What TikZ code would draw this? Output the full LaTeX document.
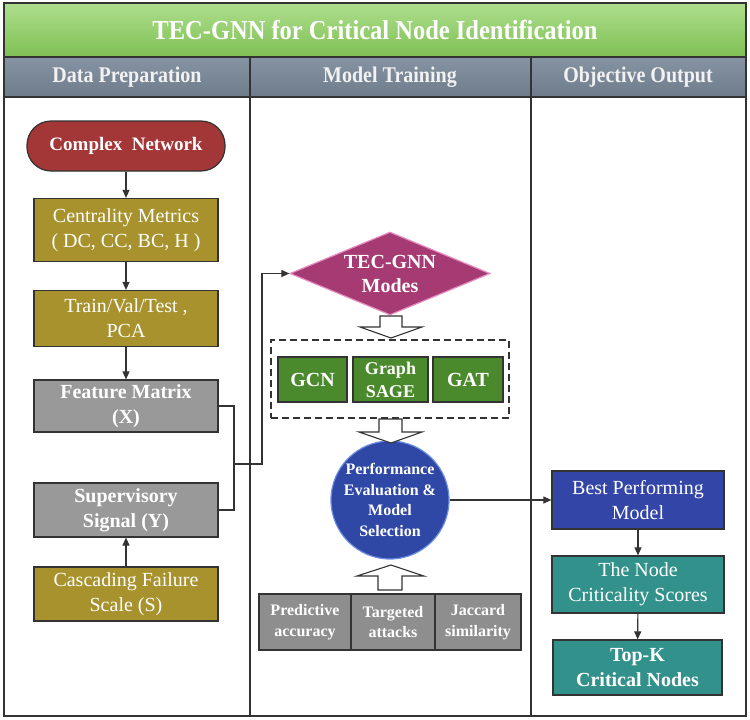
\documentclass[tikz,border=0pt]{standalone}
\usepackage{fontspec}
\setmainfont{Liberation Serif}
\usetikzlibrary{shapes.geometric,arrows.meta}
\definecolor{titleA}{HTML}{AEDE8C}
\definecolor{titleB}{HTML}{7FC055}
\definecolor{headA}{HTML}{8593A2}
\definecolor{headB}{HTML}{6F7C8B}
\definecolor{cnred}{HTML}{A33636}
\definecolor{olive}{HTML}{A8922E}
\definecolor{greybox}{HTML}{999999}
\definecolor{magen}{HTML}{A63A73}
\definecolor{magenB}{HTML}{E58BC0}
\definecolor{gnn}{HTML}{4A8A2C}
\definecolor{pblue}{HTML}{2F48A6}
\definecolor{pblueB}{HTML}{6F8FE0}
\definecolor{bpblue}{HTML}{3346A8}
\definecolor{teal}{HTML}{33918B}
\definecolor{mgrey}{HTML}{8E8E8E}
\definecolor{ink}{HTML}{333333}
\newcommand{\tallish}[1]{\scalebox{1}[1.12]{#1}}
\begin{document}
\begin{tikzpicture}[x=1pt,y=-1pt,
  box/.style={draw=ink, line width=1.2pt, text=white, align=center, inner sep=0pt,
    font=\fontsize{20}{25}\selectfont},
  lbox/.style={box, minimum width=184pt},
  small/.style={font=\fontsize{16}{20.5}\selectfont\bfseries},
  conn/.style={draw=ink, line width=1.1pt},
  arr/.style={conn, -{Triangle[length=8pt,width=7pt]}},
  hollow/.style={draw=ink, line width=1.1pt, fill=white},
  head/.style={text=white!95!black, font=\fontsize{20}{24}\selectfont\bfseries}
]
\useasboundingbox (0,0) rectangle (750,720);
% frame
\shade[top color=titleA, bottom color=titleB] (4,3) rectangle (746,57);
\shade[top color=headA, bottom color=headB] (4,57) rectangle (746,97);
\draw[ink, line width=1.5pt] (4,3) rectangle (746,716);
\draw[ink, line width=1.5pt] (4,57) -- (746,57);
\draw[ink, line width=1.5pt] (4,97) -- (746,97);
\draw[ink, line width=1.5pt] (250,57) -- (250,716);
\draw[ink, line width=1.5pt] (531,57) -- (531,716);
\node[text=white, font=\fontsize{24.5}{28}\selectfont\bfseries] (title) at (375,30) {\tallish{TEC-GNN for Critical Node Identification}};
\node[head] (h1) at (127,77) {\tallish{Data Preparation}};
\node[head] (h2) at (390,77) {\tallish{Model Training}};
\node[head] (h3) at (638,77) {\tallish{Objective Output}};

% left column
\node[box, fill=cnred, minimum width=198pt, minimum height=50pt, rounded corners=24pt,
  font=\fontsize{19}{24}\selectfont\bfseries] (cn) at (126,146) {Complex\ \ Network};
\node[lbox, fill=olive, minimum height=63pt] (cm) at (126,230) {Centrality Metrics\\( DC, CC, BC, H )};
\node[lbox, fill=olive, minimum height=56pt] (tv) at (126,318.5) {Train/Val/Test ,\\PCA};
\node[lbox, fill=greybox, minimum height=52pt, font=\fontsize{20}{25}\selectfont\bfseries] (fm) at (126,406) {Feature Matrix\\(X)};
\node[lbox, fill=greybox, minimum height=54pt, font=\fontsize{20}{25}\selectfont\bfseries] (ss) at (126,510) {Supervisory\\Signal (Y)};
\node[lbox, fill=olive, minimum height=54pt] (cf) at (126,594) {Cascading Failure\\Scale (S)};
\draw[arr] (cn) -- (cm);
\draw[arr] (cm) -- (tv);
\draw[arr] (tv) -- (fm);
\draw[arr] (cf) -- (ss);
\coordinate (j) at (234,464);
\coordinate (k) at (262,464);

% middle column
\node[diamond, draw=magenB, fill=magen, line width=1.2pt, minimum width=200pt, minimum height=83pt,
  aspect=2.4, inner sep=0pt, text=white, align=center, font=\fontsize{20}{24}\selectfont\bfseries] (tec) at (390,273.5) {TEC-GNN\\Modes};
\draw[conn] (fm.east) -| (j);
\draw[conn] (ss.east) -| (j);
\draw[arr] (j) -- (k) |- (tec.west);

\node[draw=ink, dash pattern=on 7pt off 4pt, line width=1.1pt, minimum width=238pt, minimum height=78pt] (grp) at (390,379) {};
\node[box, fill=gnn, minimum width=69pt, minimum height=45pt, font=\fontsize{20}{24}\selectfont\bfseries] (gcn) at (312.5,379.5) {GCN};
\node[box, fill=gnn, minimum width=75pt, minimum height=45pt, font=\fontsize{18}{23}\selectfont\bfseries] (gs) at (390.5,379.5) {Graph\\SAGE};
\node[box, fill=gnn, minimum width=70pt, minimum height=45pt, font=\fontsize{20}{24}\selectfont\bfseries] (gat) at (468,379.5) {GAT};
\draw[hollow] (380,316) -- (402,316) -- (402,327) -- (422,327) -- (391,338) -- (360,327) -- (380,327) -- cycle;

\node[circle, draw=pblueB, fill=pblue, line width=1.2pt, minimum size=118pt, inner sep=0pt,
  text=white, align=center, small] (pe) at (390,500) {Performance\\Evaluation \&\\Model\\Selection};
\draw[hollow] (379,419) -- (402,419) -- (402,432) -- (422,432) -- (391,443) -- (359,432) -- (379,432) -- cycle;
\draw[hollow] (378,590) -- (402,590) -- (402,576) -- (424,576) -- (391,565) -- (357,576) -- (378,576) -- cycle;

\node[box, fill=mgrey, minimum width=92pt, minimum height=56pt, small] (pa) at (305,622) {Predictive\\accuracy};
\node[box, fill=mgrey, minimum width=84pt, minimum height=56pt, small] (ta) at (393,622) {Targeted\\attacks};
\node[box, fill=mgrey, minimum width=86pt, minimum height=56pt, small] (js) at (478,622) {Jaccard\\similarity};

% right column
\node[box, fill=bpblue, minimum width=172pt, minimum height=58pt] (bp) at (638,500) {Best Performing\\Model};
\node[box, fill=teal, minimum width=172pt, minimum height=57pt] (nc) at (638,584.5) {The Node\\Criticality Scores};
\node[box, fill=teal, minimum width=169pt, minimum height=55pt, font=\fontsize{20}{25}\selectfont\bfseries] (tk) at (637.5,667.5) {Top-K\\Critical Nodes};
\draw[arr] (pe) -- (bp);
\draw[arr] (bp) -- (nc);
\draw[arr] (nc) -- (tk);
\end{tikzpicture}
\end{document}
